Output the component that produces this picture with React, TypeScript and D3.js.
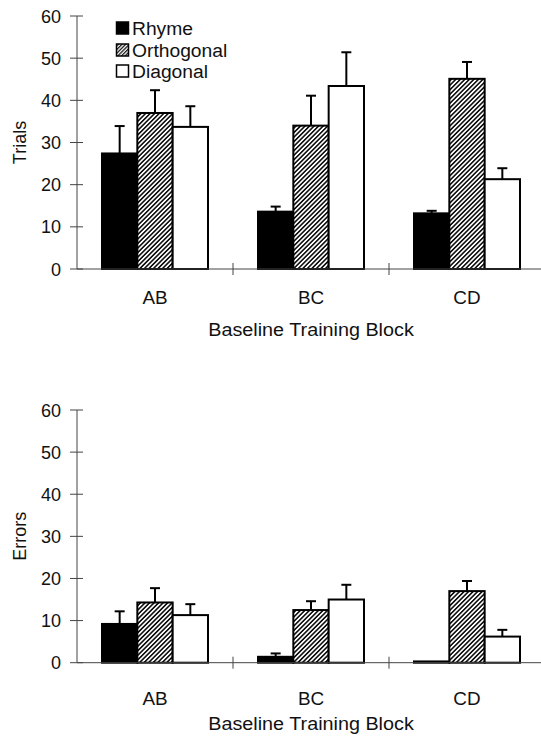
import React from 'react';
import * as d3 from 'd3';

const categories = ['AB', 'BC', 'CD'];
const seriesNames = ['Rhyme', 'Orthogonal', 'Diagonal'];
const yTicks = [0, 10, 20, 30, 40, 50, 60];

const trialsRhyme = [27.4, 13.6, 13.2];
const trialsOrthogonal = [37.0, 34.0, 45.1];
const trialsDiagonal = [33.7, 43.4, 21.3];
const trialsRhymeErr = [6.5, 1.2, 0.6];
const trialsOrthogonalErr = [5.4, 7.1, 4.0];
const trialsDiagonalErr = [4.9, 8.0, 2.6];

const errorsRhyme = [9.2, 1.4, 0.3];
const errorsOrthogonal = [14.3, 12.5, 17.0];
const errorsDiagonal = [11.3, 15.0, 6.2];
const errorsRhymeErr = [3.0, 0.8, 0];
const errorsOrthogonalErr = [3.4, 2.1, 2.4];
const errorsDiagonalErr = [2.6, 3.5, 1.6];

const FONT = '"Liberation Sans", Arial, Helvetica, sans-serif';

function T({ x, y, anchor = 'start', size = 18, sx = 1, rotate = 0, children }: any) {
  const tr = rotate
    ? `translate(${x},${y}) rotate(${rotate}) scale(${sx},1)`
    : `translate(${x},${y}) scale(${sx},1)`;
  return (
    <text transform={tr} textAnchor={anchor} fontFamily={FONT} fontSize={size} fill="#111">
      {children}
    </text>
  );
}

function Panel({ y0, y60, means, errs, yLabel, catY, titleY }: any) {
  const left = 77;
  const x = d3.scaleBand<string>().domain(categories).range([left, left + 156 * 3]).padding(0);
  const y = d3.scaleLinear().domain([0, 60]).range([y0, y60]);
  const groupW = 106;
  const x1 = d3.scaleBand<string>().domain(seriesNames).range([0, groupW]).padding(0);
  const fills = ['#000', 'url(#hatch)', '#fff'];
  return (
    <g>
      <line x1={left} x2={left} y1={y(0)} y2={y(60)} stroke="#444" strokeWidth={1} />
      {yTicks.map((t) => (
        <g key={t}>
          <line x1={left - 7} x2={left + 6} y1={y(t)} y2={y(t)} stroke="#444" strokeWidth={1} />
          <T x={left - 16} y={y(t) + 6.5} anchor="end" size={18}>{t}</T>
        </g>
      ))}
      {categories.map((c, ci) => {
        const gx = x(c)! + x.bandwidth() / 2 - groupW / 2;
        return seriesNames.map((s, si) => {
          const v = means[si][ci];
          const e = errs[si][ci];
          const bx = gx + x1(s)!;
          const bw = x1.bandwidth();
          const cx = bx + bw / 2;
          return (
            <g key={c + s}>
              {e > 0 && (
                <g>
                  <line x1={cx} x2={cx} y1={y(v)} y2={y(v + e)} stroke="#000" strokeWidth={2} />
                  <line x1={cx - 5} x2={cx + 5} y1={y(v + e)} y2={y(v + e)} stroke="#000" strokeWidth={2} />
                </g>
              )}
              <rect x={bx} y={y(v)} width={bw} height={y(0) - y(v)} fill={fills[si]} stroke="#000" strokeWidth={2} />
            </g>
          );
        });
      })}
      <line x1={left} x2={541} y1={y(0)} y2={y(0)} stroke="#444" strokeWidth={1} />
      {categories.map((c, ci) =>
        ci > 0 ? (
          <line key={c} x1={x(c)!} x2={x(c)!} y1={y(0) - 6} y2={y(0) + 6} stroke="#444" strokeWidth={1} />
        ) : null
      )}
      {categories.map((c) => (
        <T key={c} x={x(c)! + x.bandwidth() / 2} y={catY} anchor="middle" size={18} sx={1.05}>{c}</T>
      ))}
      <T x={311} y={titleY} anchor="middle" size={18.5} sx={1.07}>Baseline Training Block</T>
      <T x={26} y={(y(0) + y(60)) / 2} anchor="middle" size={18} rotate={-90}>{yLabel}</T>
    </g>
  );
}

export default function App() {
  return (
    <svg width={541} height={736} style={{ position: 'absolute', left: 0, top: 0, background: '#fff' }}>
      <defs>
        <pattern id="hatch" patternUnits="userSpaceOnUse" width={3.2} height={3.2} patternTransform="rotate(45)">
          <rect width={3.2} height={3.2} fill="#fff" />
          <line x1={0.8} x2={0.8} y1={0} y2={3.2} stroke="#111" strokeWidth={1.6} />
        </pattern>
        <pattern id="hatchSmall" patternUnits="userSpaceOnUse" width={2.6} height={2.6} patternTransform="rotate(45)">
          <rect width={2.6} height={2.6} fill="#fff" />
          <line x1={0.6} x2={0.6} y1={0} y2={2.6} stroke="#111" strokeWidth={1.3} />
        </pattern>
      </defs>
      <rect width={541} height={736} fill="#fff" />
      <Panel
        y0={269}
        y60={16}
        means={[trialsRhyme, trialsOrthogonal, trialsDiagonal]}
        errs={[trialsRhymeErr, trialsOrthogonalErr, trialsDiagonalErr]}
        yLabel="Trials"
        catY={304}
        titleY={336}
      />
      <Panel
        y0={662.7}
        y60={410}
        means={[errorsRhyme, errorsOrthogonal, errorsDiagonal]}
        errs={[errorsRhymeErr, errorsOrthogonalErr, errorsDiagonalErr]}
        yLabel="Errors"
        catY={705}
        titleY={730}
      />
      {seriesNames.map((s, i) => {
        const fy = [22, 44, 65][i];
        const f = ['#000', 'url(#hatchSmall)', '#fff'][i];
        return (
          <g key={s}>
            <rect x={116.5} y={fy} width={12} height={12} fill={f} stroke="#000" strokeWidth={1.5} />
            <T x={132} y={fy + 13} size={18} sx={1.07}>{s}</T>
          </g>
        );
      })}
    </svg>
  );
}
